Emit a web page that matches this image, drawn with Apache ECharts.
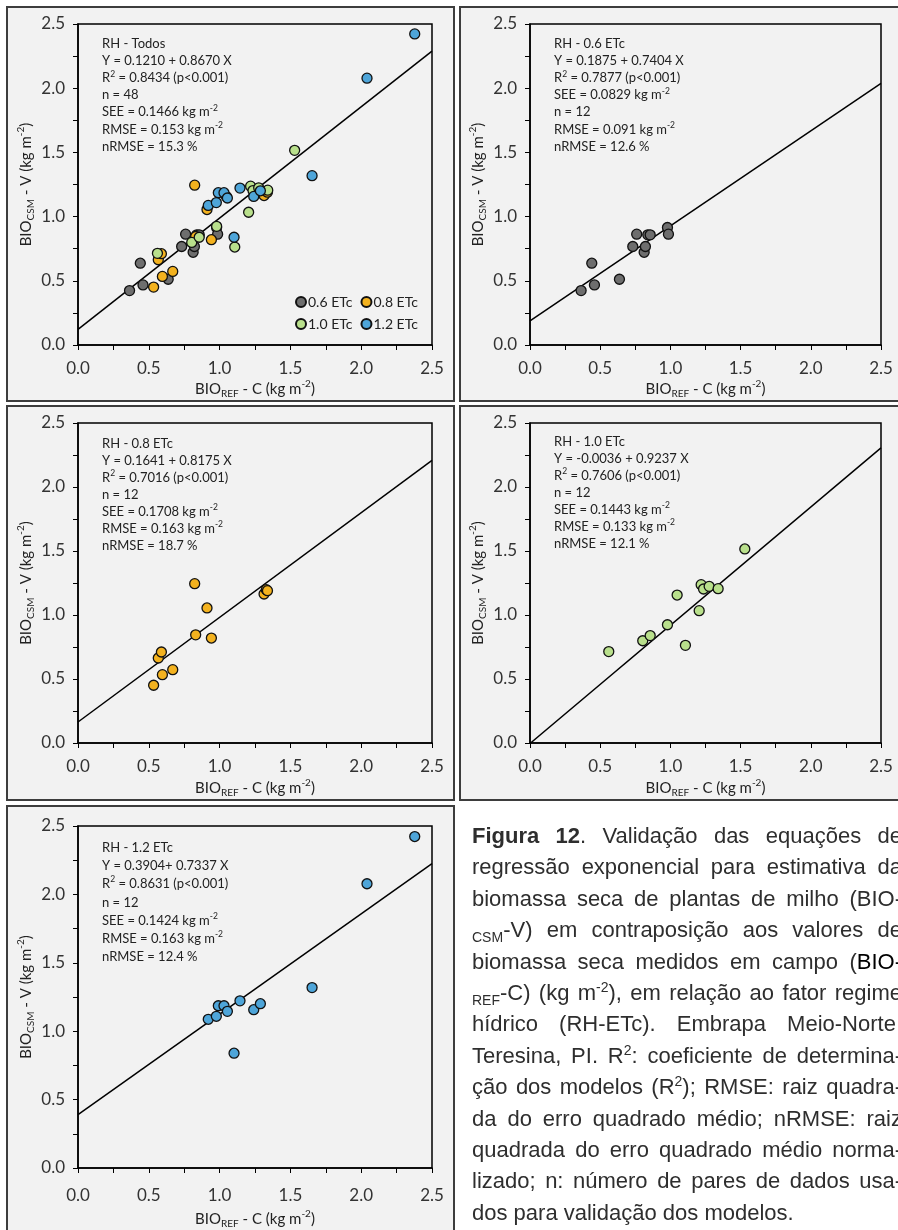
<!DOCTYPE html>
<html>
<head>
<meta charset="utf-8">
<script src="https://cdn.jsdelivr.net/npm/echarts@6/dist/echarts.min.js"></script>
<style>
  html, body { margin: 0; padding: 0; width: 898px; height: 1230px; overflow: hidden; background: #fff; }
  #main { position: absolute; left: 0; top: 0; width: 898px; height: 1230px; }
  #cap { position: absolute; left: 472px; top: 820px; width: 430px;
         font-family: 'Liberation Sans', Arial, sans-serif; font-size: 22px; line-height: 31.4px; color: #2e2e2e; }
  #cap div { text-align: justify; text-align-last: justify; white-space: nowrap; }
  #cap div.last { text-align-last: left; }
  #cap sub, #cap sup { font-size: 14px; line-height: 0; }
</style>
</head>
<body>
<div id="main"></div>
<div id="cap">
  <div><b>Figura 12</b>. Validação das equações de</div>
  <div>regressão exponencial para estimativa da</div>
  <div>biomassa seca de plantas de milho (BIO-</div>
  <div><sub>CSM</sub>-V) em contraposição aos valores de</div>
  <div>biomassa seca medidos em campo (<span style="color:#000">BIO-</span></div>
  <div><sub>REF</sub>-C) (kg m<sup>-2</sup>), em relação ao fator regime</div>
  <div>hídrico (RH-ETc). Embrapa Meio-Norte,</div>
  <div>Teresina, PI. R<sup>2</sup>: coeficiente de determina-</div>
  <div>ção dos modelos (R<sup>2</sup>); RMSE: raiz quadra-</div>
  <div>da do erro quadrado médio; nRMSE: raiz</div>
  <div>quadrada do erro quadrado médio norma-</div>
  <div>lizado; n: número de pares de dados usa-</div>
  <div class="last">dos para validação dos modelos.</div>
</div>
<script>
// observed (BIO_REF - C) and estimated (BIO_CSM - V), kg m-2, per water regime
var x06 = [0.364, 0.440, 0.459, 0.637, 0.732, 0.760, 0.813, 0.822, 0.839, 0.856, 0.979, 0.986];
var y06 = [0.424, 0.637, 0.468, 0.512, 0.767, 0.863, 0.722, 0.767, 0.858, 0.858, 0.915, 0.863];
var x08 = [0.534, 0.567, 0.589, 0.596, 0.669, 0.824, 0.831, 0.911, 0.942, 1.314, 1.330, 1.338];
var y08 = [0.451, 0.664, 0.711, 0.534, 0.573, 1.245, 0.845, 1.055, 0.820, 1.164, 1.198, 1.190];
var x10 = [0.561, 0.803, 0.856, 0.979, 1.048, 1.107, 1.205, 1.219, 1.236, 1.276, 1.340, 1.530];
var y10 = [0.714, 0.799, 0.839, 0.924, 1.156, 0.763, 1.034, 1.237, 1.203, 1.224, 1.206, 1.516];
var x12 = [0.920, 0.977, 0.991, 1.031, 1.055, 1.102, 1.144, 1.241, 1.288, 1.653, 2.041, 2.378];
var y12 = [1.087, 1.109, 1.186, 1.186, 1.145, 0.839, 1.222, 1.157, 1.201, 1.319, 2.078, 2.423];

var groupNames = ['0.6 ETc', '0.8 ETc', '1.0 ETc', '1.2 ETc'];
var groupColors = ['#6e6e6e', '#f3b21f', '#b9e08c', '#4ea5d9'];
var groupX = [x06, x08, x10, x12];
var groupY = [y06, y08, y10, y12];

// regression lines: Y = a + b X
var intercepts = [0.1210, 0.1875, 0.1641, -0.0036, 0.3904];
var slopes = [0.8670, 0.7404, 0.8175, 0.9237, 0.7337];
var titles = ['Todos', '0.6 ETc', '0.8 ETc', '1.0 ETc', '1.2 ETc'];
var eqText = ['Y = 0.1210 + 0.8670 X', 'Y = 0.1875 + 0.7404 X', 'Y = 0.1641 + 0.8175 X', 'Y = -0.0036 + 0.9237 X', 'Y = 0.3904+ 0.7337 X'];
var r2 = ['0.8434', '0.7877', '0.7016', '0.7606', '0.8631'];
var nVals = ['48', '12', '12', '12', '12'];
var see = ['0.1466', '0.0829', '0.1708', '0.1443', '0.1424'];
var rmse = ['0.153', '0.091', '0.163', '0.133', '0.163'];
var nrmse = ['15.3', '12.6', '18.7', '12.1', '12.4'];
var xTicks = 0.25;

var layout = [
  { left: 78, top: 24, width: 354, height: 321, tx: 102, ty: 37, dy: 17.2, lm: 15, xg: 34, groups: [0, 1, 2, 3] },
  { left: 530, top: 24, width: 351, height: 321, tx: 554, ty: 37, dy: 17.2, lm: 15, xg: 34, groups: [0], swap: true },
  { left: 78, top: 423, width: 354, height: 320, tx: 102, ty: 437, dy: 17, lm: 15, xg: 35, groups: [1] },
  { left: 530, top: 423, width: 351, height: 320, tx: 554, ty: 435, dy: 17, lm: 15, xg: 35, groups: [2] },
  { left: 78, top: 826, width: 354, height: 346, tx: 102, ty: 841, dy: 18.3, lm: 19, xg: 41, groups: [3] }
];
var frames = [[7, 7, 447, 394], [460, 7, 450, 394], [7, 406, 447, 394], [460, 406, 450, 394], [7, 806, 447, 440]];

var font = 'Lato';
var subRich = {
  t: { fontSize: 15, lineHeight: 20, fontFamily: font, color: '#222' },
  s: { fontSize: 10, lineHeight: 10, verticalAlign: 'bottom', fontFamily: font, color: '#222' },
  p: { fontSize: 10, lineHeight: 10, verticalAlign: 'top', fontFamily: font, color: '#222' }
};

function fmt(v) {
  return Math.abs(v * 2 - Math.round(v * 2)) < 1e-6 ? v.toFixed(1) : '';
}

var grids = [], xAxes = [], yAxes = [], series = [], graphics = [];

frames.forEach(function (f) {
  graphics.push({ type: 'rect', z: -10, shape: { x: f[0], y: f[1], width: f[2], height: f[3] },
    style: { fill: '#f2f2f2', stroke: '#3d3d3d', lineWidth: 2 } });
});

layout.forEach(function (p, i) {
  grids.push({ left: p.left, top: p.top, width: p.width, height: p.height, show: true,
    borderColor: '#000', borderWidth: 1.5, backgroundColor: 'transparent' });
  var axisCommon = {
    min: 0, max: 2.5, interval: xTicks, gridIndex: i,
    splitLine: { show: false },
    axisLine: { onZero: false, lineStyle: { color: '#000', width: 1.5 } },
    axisTick: { show: true, inside: false, length: 5, lineStyle: { color: '#000', width: 1 } },
    axisLabel: { formatter: fmt, color: '#333', fontSize: 17, fontFamily: font },
    nameLocation: 'middle',
    nameTextStyle: { rich: subRich }
  };
  xAxes.push(Object.assign({}, axisCommon, {
    type: 'value', name: '{t|BIO}{s|REF}{t| - C (kg m}{p|-2}{t|)}', nameGap: p.xg,
    axisLabel: Object.assign({}, axisCommon.axisLabel, { margin: p.lm })
  }));
  yAxes.push(Object.assign({}, axisCommon, {
    type: 'value', name: '{t|BIO}{s|CSM}{t| - V (kg m}{p|-2}{t|)}', nameGap: 42,
    axisLabel: Object.assign({}, axisCommon.axisLabel, { margin: 13 })
  }));

  series.push({
    type: 'line', name: 'fit' + i, xAxisIndex: i, yAxisIndex: i, symbol: 'none', silent: true, z: 1,
    lineStyle: { color: '#000', width: 1.5 },
    data: [[0, intercepts[i]], [2.5, intercepts[i] + slopes[i] * 2.5]]
  });
  p.groups.forEach(function (g) {
    series.push({
      type: 'scatter', name: groupNames[g], xAxisIndex: i, yAxisIndex: i, symbolSize: 10, z: 3,
      itemStyle: { color: groupColors[g], borderColor: '#111', borderWidth: 1.3, opacity: 1 },
      data: groupX[g].map(function (x, k) { return [x, groupY[g][k]]; })
    });
  });

  var lines = [
    '{n|RH - ' + titles[i] + '}',
    '{n|' + eqText[i] + '}',
    '{n|R}{p|2}{n| = ' + r2[i] + ' (p<0.001)}',
    '{n|n = ' + nVals[i] + '}',
    '{n|SEE = ' + see[i] + ' kg m}{p|-2}',
    '{n|RMSE = ' + rmse[i] + ' kg m}{p|-2}',
    '{n|nRMSE = ' + nrmse[i] + ' %}'
  ];
  if (p.swap) { var tmp = lines[3]; lines[3] = lines[4]; lines[4] = tmp; }
  graphics.push({
    type: 'text', left: p.tx, top: p.ty, z: 5,
    style: {
      text: lines.join('\n'),
      rich: {
        n: { fontSize: 13, lineHeight: p.dy, fontFamily: font, fill: '#222' },
        p: { fontSize: 8.5, lineHeight: 9, verticalAlign: 'top', fontFamily: font, fill: '#222' }
      }
    }
  });
});

var chart = echarts.init(document.getElementById('main'), null, { renderer: 'canvas' });
chart.setOption({
  backgroundColor: 'transparent',
  animation: false,
  legend: {
    data: groupNames, left: 290, top: 290, width: 150, icon: 'circle',
    itemWidth: 10, itemHeight: 10, itemGap: 8,
    textStyle: { fontSize: 14, fontFamily: font, color: '#222', padding: [0, 0, 0, -3] }
  },
  grid: grids,
  xAxis: xAxes,
  yAxis: yAxes,
  series: series,
  graphic: graphics
});
</script>
</body>
</html>
